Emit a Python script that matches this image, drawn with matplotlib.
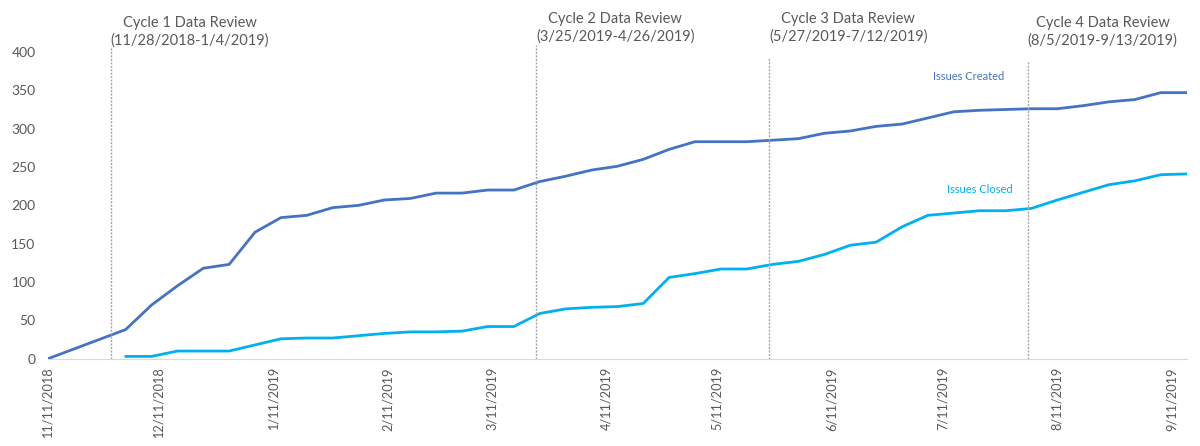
import numpy as np
import pandas as pd
import matplotlib
matplotlib.use('Agg')
import matplotlib.pyplot as plt
import matplotlib.dates as mdates

# weekly snapshots, 11/11/2018 .. 9/15/2019
weeks = pd.date_range('2018-11-11', '2019-09-15', freq='7D')
nan = np.nan
issues_created = [0, nan, nan, 38, 70, 95, 118, 123, 165, 184, 187, 197, 200, 207, 209,
                  216, 216, 220, 220, 231, 238, 246, 251, 260, 273, 283, 283, 283, 285,
                  287, 294, 297, 303, 306, 314, 322, 324, 325, 326, 326, 330, 335, 338,
                  347, 347]
issues_closed = [nan, nan, nan, 3, 3, 10, 10, 10, 18, 26, 27, 27, 30, 33, 35, 35, 36, 42,
                 42, 59, 65, 67, 68, 72, 106, 111, 117, 117, 123, 127, 136, 148, 152, 172,
                 187, 190, 193, 193, 196, 207, 217, 227, 232, 240, 241]

cycle_lines = ['2018-11-28', '2019-03-23', '2019-05-25', '2019-08-03']
cycle_labels = ['Cycle 1 Data Review\n(11/28/2018-1/4/2019)',
                'Cycle 2 Data Review\n(3/25/2019-4/26/2019)',
                'Cycle 3 Data Review\n(5/27/2019-7/12/2019)',
                'Cycle 4 Data Review\n(8/5/2019-9/13/2019)']
tick_dates = pd.date_range('2018-11-01', '2019-09-01', freq='MS') + pd.Timedelta(days=10)

plt.rcParams['font.family'] = ['Lato', 'DejaVu Sans']
grey = '#595959'

fig = plt.figure(figsize=(12, 4.46), dpi=100)
ax = fig.add_axes([0.04, 0.1957, 0.9489, 0.6877])

created = pd.Series(issues_created, index=weeks).dropna()
closed = pd.Series(issues_closed, index=weeks).dropna()
ax.plot(created.index, created.values, color='#4472C4', lw=2, solid_capstyle='round')
ax.plot(closed.index, closed.values, color='#00B0F0', lw=2, solid_capstyle='round')

ax.set_xlim(weeks[0], weeks[-1])
ax.set_ylim(0, 400)
ax.set_yticks(range(0, 401, 50))
ax.set_xticks(tick_dates)
ax.xaxis.set_major_formatter(mdates.DateFormatter('%-m/%d/%Y'))
ax.tick_params(axis='both', length=0, colors=grey, labelsize=10)
ax.tick_params(axis='y', pad=9)
ax.tick_params(axis='x', pad=6, labelrotation=90, labelsize=9.2)
for sp in ['top', 'right', 'left']:
    ax.spines[sp].set_visible(False)
ax.spines['bottom'].set_color('#D9D9D9')

line_tops = [1.018, 1.023, 0.982, 0.966]
text_y = [1.066, 1.079, 1.079, 1.067]
for d, lab, top, ty in zip(cycle_lines, cycle_labels, line_tops, text_y):
    ax.axvline(pd.Timestamp(d), ymin=0, ymax=top, color='#A6A6A6', lw=1,
               ls=(0, (1.5, 1)), clip_on=False)
    ax.text(pd.Timestamp(d), ty, lab, transform=ax.get_xaxis_transform(),
            ha='left', va='center', multialignment='center', color=grey, fontsize=10.5,
            linespacing=1.3)

ax.text(pd.Timestamp('2019-07-18'), 368, 'Issues Created', color='#4472C4',
        fontsize=8, ha='center', va='center', fontstretch='condensed')
ax.text(pd.Timestamp('2019-07-21'), 221, 'Issues Closed', color='#00B0F0',
        fontsize=8, ha='center', va='center', fontstretch='condensed')

fig.savefig('out.png', dpi=100)
